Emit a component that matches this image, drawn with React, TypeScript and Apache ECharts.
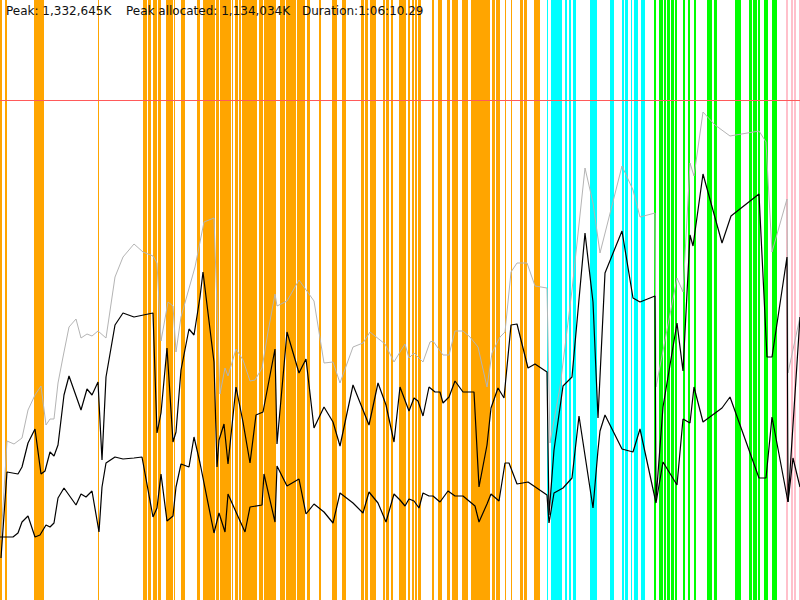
import React, { useEffect, useRef } from "react";
import * as echarts from "echarts";

// ---- Data (x: time scale 0..800, y: memory scale 0..600) ----
const X_MAX = 800;
const Y_MAX = 600;
const LIMIT_LEVEL = 500;

const titleParts = ["Peak: 1,332,645K", "Peak allocated: 1,134,034K", "Duration:1:06:10.29"];

// GC event intervals [start, end]
const orangeEvents: number[][] = [
  [0, 1.5], [5, 7], [33.5, 35.5], [36, 37.5], [38, 44], [97.5, 99],
  [142.7, 146.7], [148, 151.3], [152.7, 156.7], [157.7, 161], [166, 173.3], [174.3, 175.3], [181, 185], [196.7, 200],
  [203, 204.5], [205, 214.5], [215.5, 218.5], [220, 227.5], [228.2, 231.3], [231.8, 233.3], [235, 238], [238.5, 241.2],
  [242, 246.5], [247, 257.3], [259, 262.7], [264, 276], [280, 285.3], [285.7, 292.9], [293.3, 296], [296.5, 305],
  [306.7, 310], [319.3, 321], [331.7, 336.7],
  [341.7, 346], [361, 364], [365, 368.3], [370, 375.7], [382.7, 385], [385.7, 389.3], [390.7, 393.3], [399, 406],
  [408.3, 410], [411.7, 414], [415, 417.3], [418.3, 420.7], [431.7, 434], [437.7, 441.7],
  [446.7, 450], [451.7, 458.3], [461.7, 468.3], [471, 486.7], [487.3, 490], [491.7, 495], [496, 500], [505, 506],
  [510.7, 512.2], [520, 522.7], [524, 527.3], [534, 539.5],
];
const cyanEvents: number[][] = [
  [546.7, 548.3], [551, 562], [565, 567], [569, 571], [573, 576], [590, 596.7],
  [610, 614], [622, 624], [625, 628], [630.7, 631.7], [634, 638], [641, 645],
];
const greenEvents: number[][] = [
  [654, 655.5], [659, 663], [664, 666], [667, 670], [671, 674], [675, 677], [683, 685], [688, 690], [694, 696],
  [707, 712], [714, 717], [735, 741], [749, 752], [752.5, 757], [758, 760], [764, 768], [772, 777],
];
const pinkEvents: number[][] = [[786, 788], [791, 793], [794, 796], [799, 800]];

// Heap size (gray)
const heapSize: number[][] = [
  [1, 60], [7, 159], [14, 156], [22, 162], [28, 190], [35, 205], [41, 214], [46, 175], [50, 181], [54, 181],
  [58, 217], [63, 243], [69, 273], [76, 281], [81, 262], [87, 266], [92, 264], [98, 269], [106, 262], [115, 323],
  [123, 343], [134, 356], [143, 348], [153, 344], [157, 337], [161, 259], [168, 298], [173, 294], [176, 248],
  [181, 283], [195, 333], [200, 358], [204, 378], [214, 382], [220, 206], [225, 232], [228, 224], [236, 251],
  [243, 240], [250, 219], [255, 220], [262, 232], [268, 268], [275, 306], [277, 294], [287, 299], [299, 320],
  [314, 299], [324, 237], [333, 238], [340, 217], [353, 253], [363, 257], [370, 268], [385, 256], [394, 238],
  [400, 248], [405, 256], [409, 242], [414, 247], [423, 238], [430, 258], [433, 259], [443, 245], [449, 245],
  [455, 269], [463, 269], [470, 263], [478, 253], [487, 213], [492, 247], [500, 263], [505, 268], [511, 328],
  [517, 337], [527, 337], [535, 314], [547, 312], [550, 157], [560, 213], [572, 310], [585, 432], [593, 397],
  [600, 347], [622, 434], [633, 410], [640, 383], [655, 387], [656, 213], [677, 322], [683, 308], [690, 437],
  [694, 424], [703, 488], [715, 475], [730, 464], [759, 469], [766, 458], [772, 348], [787, 401], [788, 227],
  [800, 283],
];

// Used before GC (black, upper)
const usedBefore: number[][] = [
  [1, 42], [7, 128], [18, 126], [22, 133], [28, 157], [35, 171], [41, 126], [45, 129], [50, 148], [54, 144],
  [58, 155], [64, 205], [69, 224], [81, 190], [87, 211], [92, 205], [98, 218], [102, 140], [106, 223], [115, 275],
  [123, 287], [134, 283], [153, 287], [157, 167], [161, 187], [167, 252], [173, 158], [176, 168], [181, 230],
  [189, 271], [194, 265], [200, 303], [203, 328], [214, 238], [217, 133], [219, 160], [224, 176], [228, 136],
  [236, 213], [243, 178], [250, 137], [256, 185], [263, 188], [275, 251], [277, 156], [287, 268], [299, 227],
  [306, 241], [314, 172], [324, 193], [333, 178], [340, 154], [353, 215], [369, 175], [378, 217], [386, 195],
  [394, 158], [400, 213], [409, 189], [414, 202], [418, 199], [423, 184], [429, 213], [435, 208], [440, 208],
  [443, 197], [449, 203], [455, 219], [463, 208], [474, 208], [479, 113], [487, 155], [491, 192], [498, 212],
  [504, 202], [511, 275], [517, 276], [528, 232], [535, 236], [547, 228], [549, 85], [554, 150], [563, 214],
  [572, 223], [585, 367], [593, 298], [598, 182], [605, 327], [622, 369], [633, 302], [640, 298], [655, 304],
  [656, 100], [663, 193], [677, 277], [683, 229], [690, 365], [693, 354], [703, 426], [722, 357], [731, 384],
  [759, 406], [767, 243], [772, 243], [787, 343], [788, 98], [800, 283],
];

// Used after GC (black, lower)
const usedAfter: number[][] = [
  [0, 63], [6, 63], [13, 63], [18, 67], [22, 78], [28, 84], [35, 63], [40, 65], [46, 75], [50, 73], [54, 77],
  [58, 102], [64, 112], [76, 95], [81, 106], [86, 103], [92, 109], [99, 68], [102, 113], [106, 137], [115, 143],
  [123, 141], [134, 142], [142, 143], [153, 83], [157, 92], [161, 126], [167, 79], [173, 84], [176, 113],
  [181, 136], [189, 133], [194, 163], [200, 137], [214, 67], [219, 87], [225, 68], [228, 106], [236, 88],
  [245, 68], [250, 93], [262, 95], [264, 126], [275, 78], [277, 134], [287, 114], [299, 121], [306, 86],
  [314, 96], [324, 88], [333, 77], [340, 107], [353, 97], [363, 87], [369, 108], [378, 97], [386, 78],
  [394, 106], [400, 100], [405, 94], [409, 101], [414, 99], [419, 92], [423, 107], [429, 104], [433, 104],
  [440, 98], [448, 109], [455, 104], [463, 104], [475, 94], [479, 78], [487, 96], [491, 106], [499, 99],
  [505, 137], [509, 137], [517, 116], [528, 118], [547, 105], [549, 77], [554, 107], [563, 112], [572, 122],
  [579, 184], [593, 92], [598, 150], [600, 169], [605, 185], [622, 151], [633, 148], [640, 171], [656, 97],
  [663, 138], [677, 115], [683, 181], [690, 177], [694, 213], [703, 178], [722, 192], [730, 203], [759, 122],
  [766, 122], [772, 183], [788, 98], [793, 142], [800, 113],
];

function eventSeries(name: string, data: number[][], color: string) {
  return {
    name,
    type: "custom",
    z: 1,
    silent: true,
    clip: true,
    encode: { x: [0, 1] },
    data,
    renderItem: (params: any, api: any) => {
      const p0 = api.coord([api.value(0), Y_MAX]);
      const p1 = api.coord([api.value(1), 0]);
      const x0 = Math.round(p0[0]);
      const x1 = Math.round(p1[0]);
      return {
        type: "rect",
        shape: { x: x0, y: p0[1], width: Math.max(1, x1 - x0), height: p1[1] - p0[1] },
        style: { fill: color },
      };
    },
  };
}

function lineSeries(name: string, data: number[][], color: string, width: number, extra: any = {}) {
  return {
    name,
    type: "line",
    z: 5,
    data,
    showSymbol: false,
    symbol: "none",
    silent: true,
    lineStyle: { color, width },
    ...extra,
  };
}

export default function App() {
  const ref = useRef<HTMLDivElement>(null);

  useEffect(() => {
    if (!ref.current) return;
    const chart = echarts.init(ref.current, undefined, { renderer: "svg" });
    const font = "'DejaVu Sans', sans-serif";
    chart.setOption({
      animation: false,
      backgroundColor: "#ffffff",
      grid: { left: 0, right: 0, top: 0, bottom: 0, containLabel: false },
      xAxis: { type: "value", min: 0, max: X_MAX, show: false },
      yAxis: { type: "value", min: 0, max: Y_MAX, show: false },
      series: [
        eventSeries("orange", orangeEvents, "#ffa500"),
        eventSeries("cyan", cyanEvents, "#00ffff"),
        eventSeries("green", greenEvents, "#00ff00"),
        eventSeries("pink", pinkEvents, "#ffc0cb"),
        lineSeries("heap", heapSize, "#b4b4b4", 1),
        lineSeries("before", usedBefore, "#000000", 1.2, {
          markLine: {
            silent: true,
            symbol: "none",
            label: { show: false },
            lineStyle: { color: "#ff5a5a", width: 1.2, type: "solid" },
            data: [{ yAxis: LIMIT_LEVEL }],
          },
        }),
        lineSeries("after", usedAfter, "#000000", 1.2),
      ],
      graphic: [
        { type: "text", left: 6, top: 5, z: 10, style: { text: titleParts[0], fontSize: 12, fontFamily: font, fill: "#111" } },
        { type: "text", left: 126, top: 5, z: 10, style: { text: titleParts[1], fontSize: 12, fontFamily: font, fill: "#111" } },
        { type: "text", left: 302, top: 5, z: 10, style: { text: titleParts[2], fontSize: 12, fontFamily: font, fill: "#111" } },
      ],
    });
    return () => chart.dispose();
  }, []);

  return (
    <div
      ref={ref}
      style={{ position: "fixed", left: 0, top: 0, width: 800, height: 600, background: "#fff" }}
    />
  );
}
